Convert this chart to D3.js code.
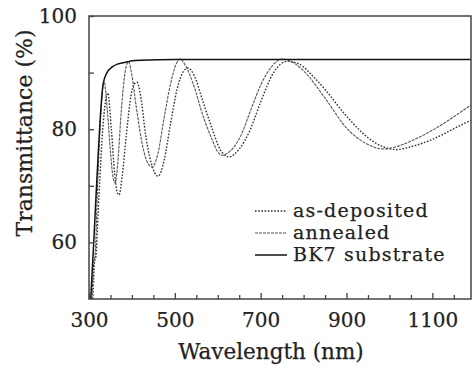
<!DOCTYPE html>
<html>
<head>
<meta charset="utf-8">
<script src="https://cdn.jsdelivr.net/npm/d3@7"></script>
<style>
  body { margin: 0; background: white; }
  svg { display: block; }
  text { font-family: "DejaVu Serif", serif; fill: #222; stroke: #222; stroke-width: 0.25px; }
</style>
</head>
<body>
<script>
// wavelength (nm) / transmittance (%)
const bk7Wl = [304, 310, 316, 321, 326, 333, 342, 354, 366, 377, 390, 400, 420, 500, 700, 900, 1190];
const bk7T  = [50, 58.5, 67.6, 75, 81.7, 88.0, 90.0, 91.0, 91.5, 91.7, 91.9, 92.1, 92.2, 92.3, 92.3, 92.3, 92.3];

const annWl = [307, 311, 314, 320, 327, 335, 343, 350, 356, 361, 367, 375, 385, 392, 400, 410, 425, 437, 447,
               460, 475, 490, 503, 512, 525, 545, 565, 585, 600, 610, 630, 650, 680, 700, 725, 750,
               775, 800, 850, 900, 950, 985, 1020, 1050, 1100, 1150, 1190];
const annT  = [50, 56.5, 57.5, 70, 82, 88.5, 83, 76, 71.5, 70.5, 74, 83, 90.5, 91.9, 89.5, 84, 77, 74, 73.3,
               75.5, 82, 88, 91.5, 92.4, 91.2, 87.5, 82.5, 78.5, 76, 75.4, 76.2, 78.3, 84, 87.8, 91, 92.4,
               91.8, 90.3, 85.5, 80.2, 77.3, 76.5, 77, 77.9, 79.8, 82.2, 84.3];

const asdWl = [309, 313, 316, 323, 332, 344, 352, 360, 365, 370, 377, 387, 398, 405, 412, 420, 432, 445, 461,
               475, 490, 505, 520, 531, 545, 565, 585, 605, 626, 650, 675, 700, 730, 762,
               790, 820, 850, 900, 950, 985, 1015, 1050, 1100, 1150, 1190];
const asdT  = [50, 56.5, 57.5, 68, 80, 86.4, 80, 72, 69, 68.4, 71.5, 79, 86, 88, 88.3, 86, 79, 74, 71.7,
               74.5, 81, 87, 90.2, 90.8, 89.5, 85, 80.5, 76.5, 75.1, 76.5, 79.8, 84.8, 90, 92.0,
               91.5, 89.5, 87, 82.3, 78.5, 76.9, 76.4, 76.9, 78.2, 80.1, 81.6];

const xTicks = [300, 350, 400, 450, 500, 550, 600, 650, 700, 750, 800, 850, 900, 950, 1000, 1050, 1100, 1150];
const xLabels = [300, 500, 700, 900, 1100];
const yTicks = [60, 70, 80, 90, 100];
const yLabels = [60, 80, 100];

const legendNames = ["as-deposited", "annealed", "BK7 substrate"];

const width = 472, height = 370;
const margin = {top: 16, right: 1, bottom: 71, left: 89};

const xScale = d3.scaleLinear().domain([300, 1190]).range([margin.left, width - margin.right]);
const yScale = d3.scaleLinear().domain([50, 100]).range([height - margin.bottom, margin.top]);

const svg = d3.select('body').append('svg')
              .attr('width', width)
              .attr('height', height);

const series = [
  {name: legendNames[0], wl: asdWl, t: asdT, dash: '1.6,1.6', w: 1.4, color: '#333'},
  {name: legendNames[1], wl: annWl, t: annT, dash: '3,1', w: 1.1, color: '#555'},
  {name: legendNames[2], wl: bk7Wl, t: bk7T, dash: null, w: 1.5, color: '#111'}
];

const line = d3.line()
               .x((d) => xScale(d[0]))
               .y((d) => yScale(d[1]))
               .curve(d3.curveMonotoneX);

svg.append('clipPath').attr('id', 'plot')
   .append('rect')
   .attr('x', margin.left).attr('y', margin.top)
   .attr('width', width - margin.left - margin.right)
   .attr('height', height - margin.top - margin.bottom);

const plot = svg.append('g').attr('clip-path', 'url(#plot)');

series.forEach((s) => {
  plot.append('path')
      .datum(s.wl.map((w, i) => [w, s.t[i]]))
      .attr('fill', 'none')
      .attr('stroke', s.color)
      .attr('stroke-width', s.w)
      .attr('stroke-dasharray', s.dash)
      .attr('d', line);
});

// frame
svg.append('rect')
   .attr('x', margin.left).attr('y', margin.top)
   .attr('width', width - margin.left - margin.right)
   .attr('height', height - margin.top - margin.bottom)
   .attr('fill', 'none')
   .attr('stroke', '#444')
   .attr('stroke-width', 1.5);

// x-axis, ticks pointing inward
const xAxis = d3.axisBottom(xScale)
                .tickValues(xTicks)
                .tickSizeInner(-5)
                .tickSizeOuter(0)
                .tickFormat((d) => xLabels.includes(d) ? d : '');

const gx = svg.append('g')
   .attr('transform', `translate(0, ${height - margin.bottom})`)
   .call(xAxis);
gx.select('.domain').remove();
gx.selectAll('line').attr('stroke', '#444').attr('stroke-width', 1.3)
  .attr('y2', (d) => xLabels.includes(d) ? -6 : -4);
gx.selectAll('text')
  .attr('y', 14)
  .style('font-size', '20px')
  .style('font-family', '"DejaVu Serif", serif');

// y-axis
const yAxis = d3.axisLeft(yScale)
                .tickValues(yTicks)
                .tickSizeInner(-5)
                .tickSizeOuter(0)
                .tickFormat((d) => yLabels.includes(d) ? d : '');

const gy = svg.append('g')
   .attr('transform', `translate(${margin.left}, 0)`)
   .call(yAxis);
gy.select('.domain').remove();
gy.selectAll('line').attr('stroke', '#444').attr('stroke-width', 1.3);
gy.selectAll('text')
  .attr('x', -12)
  .style('font-size', '20px')
  .style('font-family', '"DejaVu Serif", serif');

svg.append('text')
   .attr('x', 271)
   .attr('y', 359)
   .attr('text-anchor', 'middle')
   .style('font-size', '21.5px')
   .text('Wavelength (nm)');

svg.append('text')
   .attr('transform', `translate(32, 133) rotate(-90)`)
   .attr('text-anchor', 'middle')
   .style('font-size', '22px')
   .text('Transmittance (%)');

// legend
const legend = svg.append('g');
series.forEach((s, i) => {
  const yy = 211 + i * 22;
  legend.append('line')
        .attr('x1', 255).attr('x2', 287)
        .attr('y1', yy).attr('y2', yy)
        .attr('stroke', s.color)
        .attr('stroke-width', s.w)
        .attr('stroke-dasharray', s.dash);
  legend.append('text')
        .attr('x', 293).attr('y', yy + 6)
        .style('font-size', '19px')
        .style('letter-spacing', '1.2px')
        .text(s.name);
});
</script>
</body>
</html>
